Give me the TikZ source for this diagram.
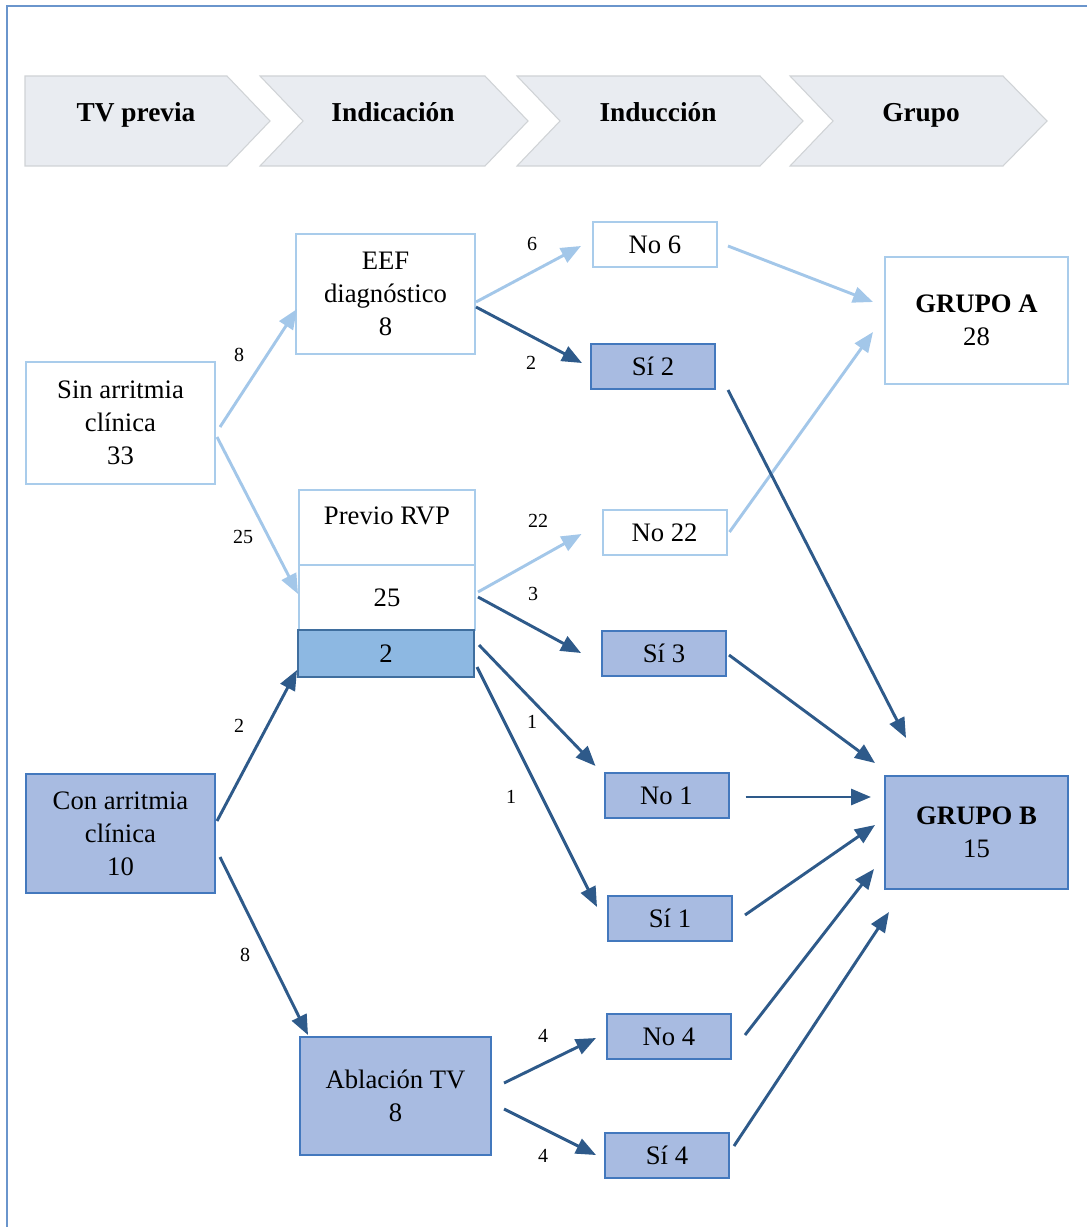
\documentclass[tikz,border=0pt]{standalone}
\usepackage{fontspec}
\setmainfont{Liberation Serif}
\usetikzlibrary{arrows.meta,calc}
\definecolor{frameblue}{HTML}{6A95CC}
\definecolor{chevfill}{HTML}{E9ECF1}
\definecolor{chevdraw}{HTML}{D0D3D6}
\definecolor{lightline}{HTML}{A3C7E9}
\definecolor{lightborder}{HTML}{A9CCEB}
\definecolor{darkline}{HTML}{2E5A8A}
\definecolor{boxfill}{HTML}{A8BBE1}
\definecolor{boxborder}{HTML}{4378BD}
\definecolor{midfill}{HTML}{8DB8E2}
\definecolor{midborder}{HTML}{3F6E9E}
\tikzset{
  txt/.style={font=\fontsize{20}{24.75}\selectfont, align=center},
  wbox/.style={txt, draw=lightborder, line width=1.5pt, fill=white, inner sep=0pt},
  fbox/.style={txt, draw=boxborder, line width=1.5pt, fill=boxfill, inner sep=0pt},
  sw/.style={font=\fontsize{20}{24.75}\selectfont, draw=lightborder, line width=1.5pt, fill=white, inner sep=0pt, minimum width=93pt, minimum height=33.75pt, text height=13.5pt, text depth=0pt},
  sf/.style={sw, draw=boxborder, fill=boxfill},
  chev/.style={fill=chevfill, draw=chevdraw, line width=0.8pt},
  head/.style={font=\fontsize{20.5}{24}\selectfont\bfseries, anchor=base},
  lbl/.style={font=\fontsize{15}{17}\selectfont},
  la/.style={draw=lightline, line width=2.2pt, -{Triangle[length=15pt,width=12pt]}},
  da/.style={draw=darkline, line width=2.2pt, -{Triangle[length=15pt,width=12pt]}},
}
\begin{document}
\begin{tikzpicture}[x=0.75pt,y=-0.75pt]
\useasboundingbox (0,0) rectangle (1087,1227);
\draw[frameblue, line width=0.9pt] (7,1227) -- (7,6) -- (1087,6);
% header chevrons
\path[chev] (25,76) -- (227,76) -- (270,121) -- (227,166) -- (25,166) -- cycle;
\path[chev] (260,76) -- (485,76) -- (528,121) -- (485,166) -- (260,166) -- (303,121) -- cycle;
\path[chev] (517,76) -- (760,76) -- (803,121) -- (760,166) -- (517,166) -- (560,121) -- cycle;
\path[chev] (790,76) -- (1003,76) -- (1047,121) -- (1003,166) -- (790,166) -- (833,121) -- cycle;
\node[head] (h1) at (136,122) {TV previa};
\node[head] (h2) at (393,122) {Indicación};
\node[head] (h3) at (658,122) {Inducción};
\node[head] (h4) at (921,122) {Grupo};
% boxes
\node[wbox, minimum width=141.75pt, minimum height=91.5pt] (sin) at (120.5,423) {Sin arritmia\\clínica\\33};
\node[wbox, minimum width=134.25pt, minimum height=90pt] (eef) at (385.5,294) {EEF\\diagnóstico\\8};
\node[wbox, minimum width=132pt, minimum height=56.25pt] (previo) at (387,527.5) {};
\node[txt] (previoT) at (387,516) {Previo RVP};
\node[wbox, minimum width=132pt, minimum height=48.75pt] (n25) at (387,597.5) {25};
\node[txt, draw=midborder, line width=1.5pt, fill=midfill, inner sep=0pt, minimum width=132pt, minimum height=35.25pt] (n2) at (386,653.5) {2};
\node[sw] (no6) at (655,244.5) {No 6};
\node[sf] (si2) at (653,366.5) {Sí 2};
\node[wbox, minimum width=137.25pt, minimum height=95.25pt] (ga) at (976.5,320.5) {\textbf{GRUPO A}\\28};
\node[sw] (no22) at (664.5,532) {No 22};
\node[sf] (si3) at (664,653) {Sí 3};
\node[sf] (no1) at (666.5,795.5) {No 1};
\node[sf] (si1) at (670,918.5) {Sí 1};
\node[fbox, minimum width=137.25pt, minimum height=84.75pt] (gb) at (976.5,832.5) {\textbf{GRUPO B}\\15};
\node[fbox, minimum width=141.75pt, minimum height=89.25pt] (con) at (120.5,833.5) {Con arritmia\\clínica\\10};
\node[fbox, minimum width=143.25pt, minimum height=88.5pt] (abl) at (395.5,1096) {Ablación TV\\8};
\node[sf] (no4) at (669,1036) {No 4};
\node[sf] (si4) at (667,1155.5) {Sí 4};
% light arrows
\draw[la] ($(sin.east)+(4,4)$) -- ($(eef.west)+(2,15)$);
\draw[la] ($(sin.east)+(1,14)$) -- ($(n25.west)+(0,-3.5)$);
\draw[la] ($(eef.east)+(0,8)$) -- ($(no6.west)+(-11,1.5)$);
\draw[la] ($(no6.east)+(10,1.5)$) -- ($(ga.west)+(-11,-18.5)$);
\draw[la] ($(n25.east)+(2,-5.5)$) -- ($(no22.west)+(-20,2)$);
\draw[la] ($(no22.east)+(2,0)$) -- ($(ga.west)+(-11,11.5)$);
% dark arrows
\draw[da] ($(eef.east)+(0,13)$) -- ($(si2.west)+(-8,-3.5)$);
\draw[da] ($(si2.east)+(12,23.5)$) -- ($(gb.north west)+(22,-37)$);
\draw[da] ($(n25.east)+(2,-0.5)$) -- ($(si3.west)+(-20,0)$);
\draw[da] ($(si3.east)+(2,2)$) -- ($(gb.north west)+(-9,-12)$);
\draw[da] ($(n2.east)+(4,-8.5)$) -- ($(no1.west)+(-8,-29.5)$);
\draw[da] ($(n2.east)+(2,13.5)$) -- ($(si1.west)+(-10,-11.5)$);
\draw[da] ($(no1.east)+(16,1.5)$) -- ($(gb.west)+(-13,-35.5)$);
\draw[da] ($(si1.east)+(12,-3.5)$) -- ($(gb.west)+(-9,-7.5)$);
\draw[da] ($(con.east)+(1,-12.5)$) -- ($(n2.west)+(0,16.5)$);
\draw[da] ($(con.east)+(4,23.5)$) -- ($(abl.north west)+(9,-1)$);
\draw[da] ($(abl.east)+(12,-13)$) -- ($(no4.west)+(-10,2)$);
\draw[da] ($(abl.east)+(12,13)$) -- ($(si4.west)+(-8,-0.5)$);
\draw[da] ($(no4.east)+(13,-1)$) -- ($(gb.south west)+(-10,-21)$);
\draw[da] ($(si4.east)+(4,-9.5)$) -- ($(gb.south west)+(5,22)$);
% edge labels
\node[lbl] (l1) at (239,355) {8};
\node[lbl] (l2) at (243,537) {25};
\node[lbl] (l3) at (532,244) {6};
\node[lbl] (l4) at (531,363) {2};
\node[lbl] (l5) at (538,521) {22};
\node[lbl] (l6) at (533,594) {3};
\node[lbl] (l7) at (532,722) {1};
\node[lbl] (l8) at (511,797) {1};
\node[lbl] (l9) at (239,726) {2};
\node[lbl] (l10) at (245,955) {8};
\node[lbl] (l11) at (543,1036) {4};
\node[lbl] (l12) at (543,1156) {4};
\end{tikzpicture}
\end{document}
